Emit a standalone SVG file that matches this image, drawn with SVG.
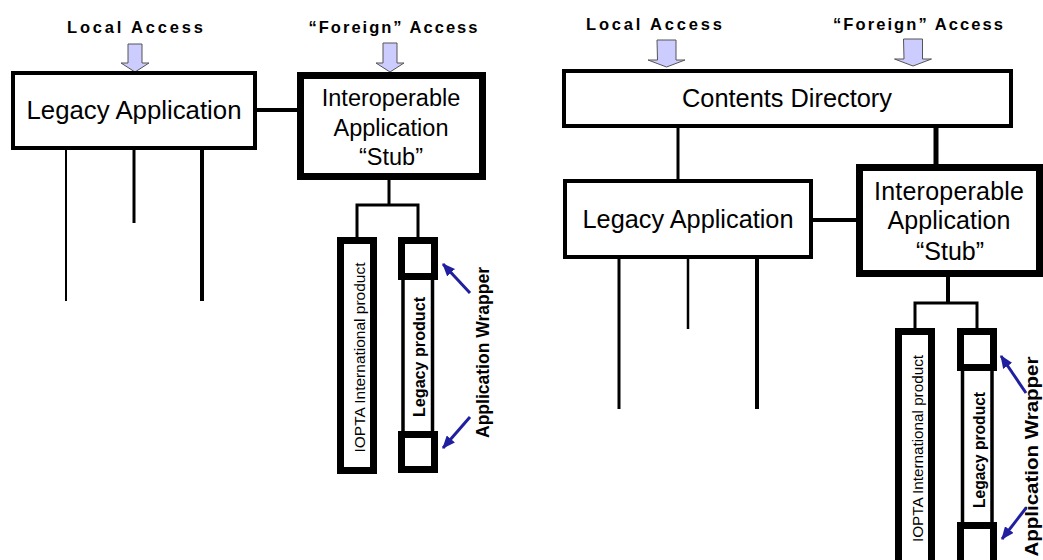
<svg xmlns="http://www.w3.org/2000/svg" width="1043" height="560" viewBox="0 0 1043 560">
  <defs>
    <style>
      .box{fill:#fff;stroke:#000}
      .txt{font-family:"Liberation Sans",Arial,sans-serif;fill:#000}
      .b{font-weight:bold}
      .wire{stroke:#000;fill:none}
      .down{fill:#ccccff;stroke:#555;stroke-width:1}
      .ptr{stroke:#1f1fa0;stroke-width:3;fill:none}
    </style>
    <marker id="head" viewBox="0 0 12 10" refX="11" refY="5" markerWidth="13" markerHeight="11" markerUnits="userSpaceOnUse" orient="auto">
      <path d="M0,0 L12,5 L0,10 z" fill="#1f1fa0"/>
    </marker>
  </defs>
  <rect width="1043" height="560" fill="#fff"/>

  <!-- ===== Left: legacy application with a stub ===== -->
  <g id="left-local-access">
    <text class="txt b" x="135" y="33" font-size="16.5" text-anchor="middle" textLength="136" lengthAdjust="spacing">Local  Access</text>
    <path class="down" d="M128,44 h14 v19 h7 l-14,9 l-14,-9 h7 z"/>
  </g>
  <g id="left-foreign-access">
    <text class="txt b" x="393" y="33" font-size="16.5" text-anchor="middle" textLength="169" lengthAdjust="spacing">“Foreign” Access</text>
    <path class="down" d="M383,43 h14 v20 h7 l-14,9 l-14,-9 h7 z"/>
  </g>
  <g id="left-legacy-app">
    <rect class="box" x="13" y="73" width="242" height="75" stroke-width="4"/>
    <text class="txt" x="134" y="119" font-size="25" text-anchor="middle" textLength="215" lengthAdjust="spacingAndGlyphs">Legacy Application</text>
  </g>
  <g id="left-stub">
    <rect class="box" x="300.5" y="75.5" width="182" height="101" stroke-width="7"/>
    <text class="txt" x="391" y="106" font-size="23.5" text-anchor="middle">Interoperable</text>
    <text class="txt" x="391" y="136" font-size="23.5" text-anchor="middle">Application</text>
    <text class="txt" x="391" y="165" font-size="23.5" text-anchor="middle">“Stub”</text>
  </g>
  <g id="left-iopta">
    <rect class="box" x="340.5" y="240.5" width="33" height="230" stroke-width="7"/>
    <text class="txt" transform="translate(365,357.5) rotate(-90)" font-size="15" text-anchor="middle" textLength="190" lengthAdjust="spacingAndGlyphs">IOPTA International product</text>
  </g>
  <g id="left-legacy-product">
    <rect class="box" x="403" y="276" width="29.5" height="158" stroke-width="3.5"/>
    <rect class="box" x="401.5" y="240.5" width="33" height="36" stroke-width="7"/>
    <rect class="box" x="401.5" y="434.5" width="33" height="35" stroke-width="7"/>
    <text class="txt b" transform="translate(425,357) rotate(-90)" font-size="16" text-anchor="middle" textLength="120" lengthAdjust="spacingAndGlyphs">Legacy product</text>
  </g>
  <g id="left-wrapper-label">
    <text class="txt b" transform="translate(489,352.5) rotate(-90)" font-size="17.5" text-anchor="middle" textLength="171" lengthAdjust="spacingAndGlyphs">Application Wrapper</text>
  </g>

  <!-- ===== Right: same pair behind a contents directory ===== -->
  <g id="right-local-access">
    <text class="txt b" x="654" y="30" font-size="16.5" text-anchor="middle" textLength="136" lengthAdjust="spacing">Local  Access</text>
    <path class="down" d="M657,40 h19 v20 h9 l-18.5,7 l-18.5,-7 h9.5 z"/>
  </g>
  <g id="right-foreign-access">
    <text class="txt b" x="918" y="30" font-size="16.5" text-anchor="middle" textLength="170" lengthAdjust="spacing">“Foreign” Access</text>
    <path class="down" d="M903.5,39 h19 v20 h9 l-18.5,7 l-18.5,-7 h9.5 z"/>
  </g>
  <g id="right-contents-directory">
    <rect class="box" x="564" y="71" width="447" height="55" stroke-width="4"/>
    <text class="txt" x="787" y="107" font-size="25" text-anchor="middle" textLength="210" lengthAdjust="spacingAndGlyphs">Contents Directory</text>
  </g>
  <g id="right-legacy-app">
    <rect class="box" x="565" y="181" width="246" height="76" stroke-width="4"/>
    <text class="txt" x="688" y="228" font-size="25" text-anchor="middle" textLength="211" lengthAdjust="spacingAndGlyphs">Legacy Application</text>
  </g>
  <g id="right-stub">
    <rect class="box" x="859.5" y="167.5" width="180" height="106" stroke-width="7"/>
    <text class="txt" x="949" y="200" font-size="25" text-anchor="middle" textLength="150" lengthAdjust="spacing">Interoperable</text>
    <text class="txt" x="949" y="229" font-size="25" text-anchor="middle" textLength="123" lengthAdjust="spacing">Application</text>
    <text class="txt" x="950" y="260" font-size="25" text-anchor="middle">“Stub”</text>
  </g>
  <g id="right-iopta">
    <rect class="box" x="898.5" y="331.5" width="33" height="240" stroke-width="7"/>
    <text class="txt" transform="translate(923,448.5) rotate(-90)" font-size="15" text-anchor="middle" textLength="187" lengthAdjust="spacingAndGlyphs">IOPTA International product</text>
  </g>
  <g id="right-legacy-product">
    <rect class="box" x="962.5" y="367" width="29.5" height="160" stroke-width="3.5"/>
    <rect class="box" x="960.5" y="331.5" width="33" height="36" stroke-width="7"/>
    <rect class="box" x="960.5" y="525.5" width="33" height="45" stroke-width="7"/>
    <text class="txt b" transform="translate(985,450) rotate(-90)" font-size="15.6" text-anchor="middle" textLength="116" lengthAdjust="spacingAndGlyphs">Legacy product</text>
  </g>
  <g id="right-wrapper-label">
    <text class="txt b" transform="translate(1037.5,456.5) rotate(-90)" font-size="19" text-anchor="middle" textLength="200" lengthAdjust="spacingAndGlyphs">Application Wrapper</text>
  </g>

  <!-- ===== Connectors ===== -->
  <g id="connectors">
    <!-- left -->
    <line class="wire" x1="257" y1="110" x2="297" y2="110" stroke-width="4"/>
    <line class="wire" x1="66" y1="150" x2="66" y2="301" stroke-width="2"/>
    <line class="wire" x1="134" y1="150" x2="134" y2="223" stroke-width="3"/>
    <line class="wire" x1="202" y1="150" x2="202" y2="301" stroke-width="4"/>
    <path class="wire" d="M389,180 V205 M357,205 H419 M357,203.5 V237 M418,203.5 V237" stroke-width="3"/>
    <line class="ptr" x1="470" y1="293" x2="443" y2="264" marker-end="url(#head)"/>
    <line class="ptr" x1="470" y1="417" x2="443" y2="448" marker-end="url(#head)"/>
    <!-- right -->
    <line class="wire" x1="678" y1="128" x2="678" y2="179" stroke-width="3"/>
    <line class="wire" x1="936" y1="128" x2="936" y2="164" stroke-width="5"/>
    <line class="wire" x1="813" y1="220" x2="856" y2="220" stroke-width="4"/>
    <line class="wire" x1="619" y1="259" x2="619" y2="409" stroke-width="3"/>
    <line class="wire" x1="688" y1="259" x2="688" y2="329" stroke-width="2.5"/>
    <line class="wire" x1="757" y1="259" x2="757" y2="409" stroke-width="4"/>
    <path class="wire" d="M948,277 V303" stroke-width="4"/>
    <path class="wire" d="M915,303 H978.5 M915,301.5 V328 M977,301.5 V328" stroke-width="3"/>
    <line class="ptr" x1="1026" y1="393" x2="1001" y2="356" marker-end="url(#head)"/>
    <line class="ptr" x1="1026" y1="508" x2="1002" y2="539" marker-end="url(#head)"/>
  </g>
</svg>
